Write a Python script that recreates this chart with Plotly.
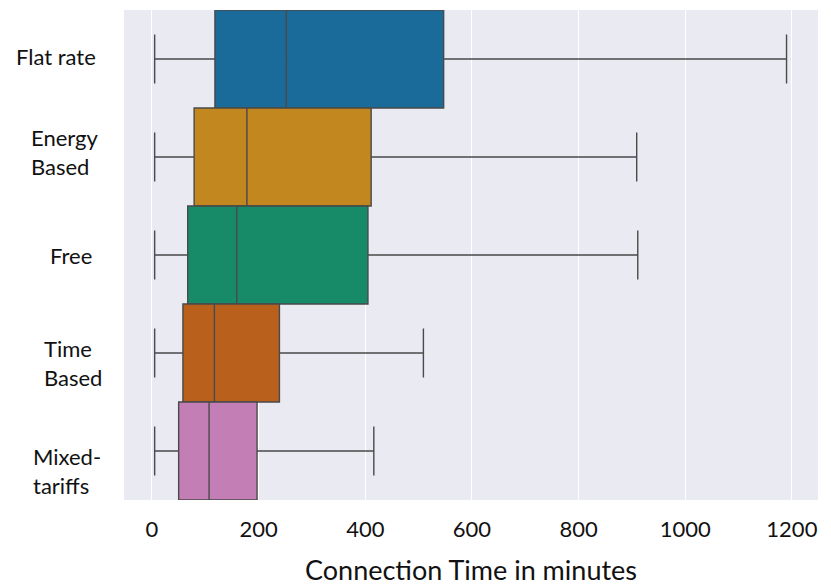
import plotly.graph_objects as go

categories = ["Flat rate", "Energy Based", "Free", "Time Based", "Mixed-tariffs"]
cat_labels = ["Flat rate", "Energy<br>Based", "Free", "Time<br>Based", "Mixed-<br>tariffs"]
lower_whisker = [5, 5, 5, 5, 5]
q1_vals = [118, 79, 67, 58, 50]
median_vals = [252, 178, 159, 117, 107]
q3_vals = [547, 411, 405, 239, 197]
upper_whisker = [1190, 909, 911, 509, 416]
colors = ["#1a6b9a", "#c2871f", "#178a68", "#b8601c", "#c37fb5"]
x_ticks = [0, 200, 400, 600, 800, 1000, 1200]

# label placement (style only)
label_center_px = [56, 64, 71, 73, 67]
label_yshift = [3, 5, 0, -10, -20]

# page body has an 8px margin; compensate so the plot lands where the reference has it
W, H = 831 - 8, 586 - 8
plot_left, plot_right, plot_top, plot_bottom = 124, 818, 10, 500
m_l = plot_left - 8
m_t = plot_top - 8
m_r = 831 - plot_right
m_b = 586 - plot_bottom
plot_w = plot_right - plot_left

fig = go.Figure()
for i, cat in enumerate(categories):
    fig.add_trace(go.Box(
        y=[cat], orientation="h",
        q1=[q1_vals[i]], median=[median_vals[i]], q3=[q3_vals[i]],
        lowerfence=[lower_whisker[i]], upperfence=[upper_whisker[i]],
        fillcolor=colors[i],
        line=dict(color="#4a4a4a", width=1.4),
        width=1.0,
        whiskerwidth=0.5,
        boxpoints=False,
        showlegend=False,
        hoverinfo="skip",
    ))

for cat, lab, cx, ys in zip(categories, cat_labels, label_center_px, label_yshift):
    fig.add_annotation(
        x=(cx - plot_left) / plot_w, xref="paper", y=cat, yref="y",
        text=lab, showarrow=False, xanchor="center", yanchor="middle",
        yshift=ys, align="left",
        font=dict(family="Lato", size=22, color="#111111"),
    )

fig.update_layout(
    width=W, height=H,
    margin=dict(l=m_l, r=m_r, t=m_t, b=m_b, autoexpand=False),
    paper_bgcolor="white",
    plot_bgcolor="#eaeaf2",
    boxmode="overlay",
    boxgap=0,
    font=dict(family="Lato", size=22, color="#111111"),
    xaxis=dict(
        range=[-52.5, 1249],
        tickvals=x_ticks,
        ticktext=[str(v) for v in x_ticks],
        showgrid=True, gridcolor="white", gridwidth=1,
        zeroline=False, showline=False,
        ticks="", ticklabelstandoff=14,
        tickfont=dict(family="Lato", size=22, color="#111111"),
        automargin=False,
        title=dict(text="Connection Time in minutes",
                   font=dict(family="Lato", size=27, color="#111111"),
                   standoff=20),
    ),
    yaxis=dict(
        type="category",
        categoryorder="array", categoryarray=categories,
        range=[4.5, -0.5],
        showgrid=False, zeroline=False, showline=False,
        showticklabels=False, ticks="",
        automargin=False,
    ),
)

fig.write_html("out.html")
